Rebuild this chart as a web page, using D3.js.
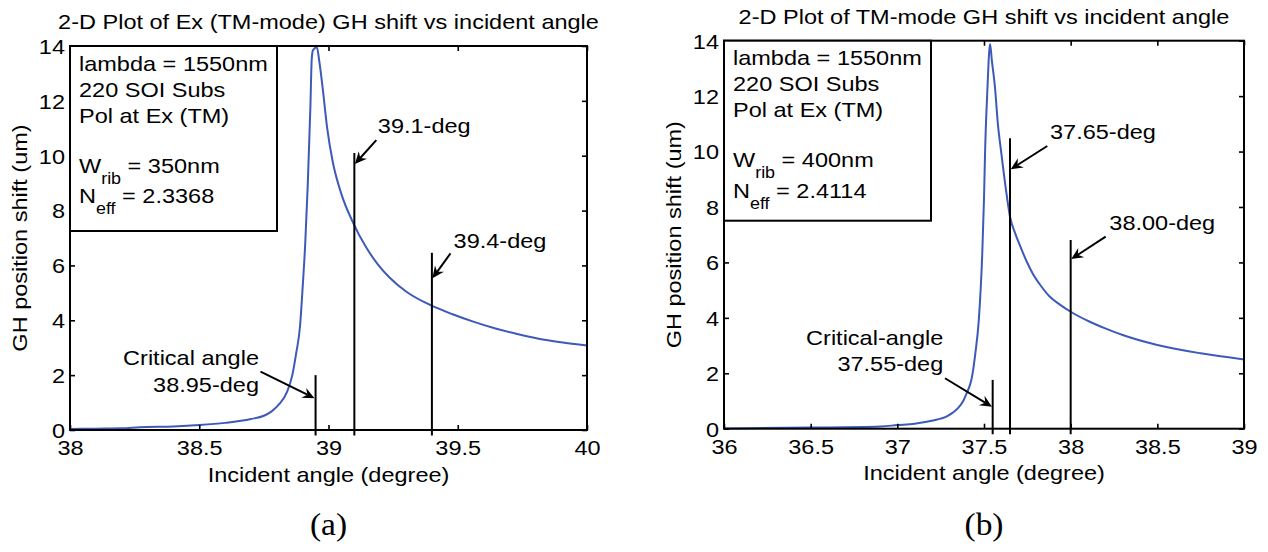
<!DOCTYPE html>
<html>
<head>
<meta charset="utf-8">
<script src="https://cdn.jsdelivr.net/npm/d3@7"></script>
<style>
  html, body { margin: 0; padding: 0; background: #fff; }
  svg { display: block; }
  text { font-family: "Liberation Sans", Arial, Helvetica, sans-serif; fill: #000; }
</style>
</head>
<body>
<svg id="fig" width="1268" height="552"></svg>
<script>
// ---- Panel (a): W_rib = 350 nm ----
const angleA = [38.00, 38.10, 38.20, 38.27, 38.40, 38.50, 38.60, 38.70, 38.75, 38.78,
                38.81, 38.84, 38.86, 38.875, 38.89, 38.90, 38.91, 38.92, 38.93, 38.935,
                38.94, 38.955, 38.965, 38.977, 38.995, 39.016, 39.05, 39.093, 39.145, 39.19,
                39.235, 39.30, 39.395, 39.48, 39.56, 39.646, 39.73, 39.813, 39.90, 40.00];
const shiftA = [0.04, 0.05, 0.06, 0.10, 0.13, 0.18, 0.26, 0.40, 0.52, 0.68,
                0.95, 1.40, 2.00, 2.80, 3.80, 5.20, 6.80, 9.00, 11.8, 13.5,
                13.85, 13.95, 13.4, 12.5, 11.0, 9.8, 8.6, 7.6, 6.67, 6.05,
                5.57, 5.05, 4.55, 4.22, 3.95, 3.70, 3.50, 3.33, 3.20, 3.08];
const xTicksA = [38, 38.5, 39, 39.5, 40];
const markerAngleA = [38.95, 39.1, 39.4];
const markerTopA = [2.0, 10.1, 6.46];

// ---- Panel (b): W_rib = 400 nm ----
const angleB = [36.00, 36.50, 36.90, 37.00, 37.10, 37.17, 37.23, 37.28, 37.32, 37.35,
                37.38, 37.40, 37.42, 37.43, 37.45, 37.47, 37.49, 37.50, 37.506, 37.52,
                37.53, 37.535, 37.545, 37.563, 37.58, 37.60, 37.625, 37.65, 37.68, 37.71,
                37.745, 37.78, 37.83, 37.88, 37.94, 38.00, 38.11, 38.20, 38.30, 38.50,
                38.75, 39.00];
const shiftB = [0.01, 0.04, 0.08, 0.13, 0.18, 0.25, 0.33, 0.43, 0.58, 0.74,
                1.00, 1.28, 1.60, 1.85, 2.72, 3.92, 6.33, 8.3, 9.94, 12.3,
                13.6, 13.88, 13.3, 12.34, 11.0, 9.94, 8.7, 7.65, 7.05, 6.57,
                6.05, 5.61, 5.14, 4.76, 4.47, 4.22, 3.86, 3.62, 3.38, 3.02,
                2.72, 2.50];
const xTicksB = [36, 36.5, 37, 37.5, 38, 38.5, 39];
const markerAngleB = [37.55, 37.65, 38.00];
const markerTopB = [1.76, 10.48, 6.81];

const yTicks = [0, 2, 4, 6, 8, 10, 12, 14];

const titleA = "2-D Plot of Ex (TM-mode) GH shift vs incident angle";
const titleB = "2-D Plot of TM-mode GH shift vs incident angle";
const xLabel = "Incident angle (degree)";
const yLabel = "GH position shift (um)";
const infoLines = ["lambda = 1550nm", "220 SOI Subs", "Pol at Ex (TM)"];
const wribA = "350nm", neffA = "2.3368";
const wribB = "400nm", neffB = "2.4114";

// Arrow annotations, in data units: text anchor, tail and head of the arrow
const notesA = [
  {lines: ["Critical angle", "38.95-deg"], anchor: "end", tx: 38.731, ty: [2.37, 1.40],
   from: [38.737, 2.13], to: [38.946, 1.16]},
  {lines: ["39.1-deg"], anchor: "start", tx: 39.191, ty: [10.82],
   from: [39.185, 10.57], to: [39.102, 9.70]},
  {lines: ["39.4-deg"], anchor: "start", tx: 39.484, ty: [6.65],
   from: [39.472, 6.44], to: [39.402, 5.53]}
];
const notesB = [
  {lines: ["Critical-angle", "37.55-deg"], anchor: "end", tx: 37.265, ty: [3.02, 2.10],
   from: [37.275, 1.82], to: [37.546, 0.79]},
  {lines: ["37.65-deg"], anchor: "start", tx: 37.881, ty: [10.45],
   from: [37.865, 10.20], to: [37.654, 9.36]},
  {lines: ["38.00-deg"], anchor: "start", tx: 38.223, ty: [7.17],
   from: [38.202, 6.93], to: [38.003, 6.12]}
];

const svg = d3.select("#fig");
const FS = 21;        // base font size
const TITLE_FS = 21;
const SX = 1.12;      // horizontal glyph stretch of the plot lettering
const curveColor = "#3d5ab8";

function addText(g, x, y, str, opts = {}) {
  const rot = opts.rotate ? " rotate(-90)" : "";
  return g.append("text")
    .attr("transform", `translate(${x},${y})${rot} scale(${opts.sx || SX},1)`)
    .attr("text-anchor", opts.anchor || "start")
    .attr("font-size", opts.size || FS)
    .style("font-family", opts.family || null)
    .text(str);
}

function drawPanel(cfg) {
  const g = svg.append("g");
  const x = d3.scaleLinear().domain(cfg.xDomain).range([cfg.left, cfg.right]);
  const y = d3.scaleLinear().domain([0, 14]).range([cfg.bottom, cfg.top]);
  const tickLen = 5;

  // curve
  const pts = cfg.angle.map((a, i) => [a, cfg.shift[i]]);
  g.append("path")
    .datum(pts)
    .attr("fill", "none")
    .attr("stroke", curveColor)
    .attr("stroke-width", 2)
    .attr("stroke-linejoin", "round")
    .attr("d", d3.line().curve(d3.curveMonotoneX).x(d => x(d[0])).y(d => y(d[1])));

  // inward ticks on all four sides
  const axB = d3.axisBottom(x).tickValues(cfg.xTicks).tickSize(-tickLen).tickFormat(d3.format("~g"));
  const axT = d3.axisTop(x).tickValues(cfg.xTicks).tickSize(-tickLen).tickFormat("");
  const axL = d3.axisLeft(y).tickValues(yTicks).tickSize(-tickLen).tickFormat(d3.format("d"));
  const axR = d3.axisRight(y).tickValues(yTicks).tickSize(-tickLen).tickFormat("");

  const gb = g.append("g").attr("transform", `translate(0,${cfg.bottom})`).call(axB);
  const gt = g.append("g").attr("transform", `translate(0,${cfg.top})`).call(axT);
  const gl = g.append("g").attr("transform", `translate(${cfg.left},0)`).call(axL);
  const gr = g.append("g").attr("transform", `translate(${cfg.right},0)`).call(axR);
  [gb, gt, gl, gr].forEach(a => {
    a.select(".domain").remove();
    a.selectAll(".tick line").attr("stroke", "#000").attr("stroke-width", 1.6);
  });
  // restyle tick labels with the stretched lettering
  gb.selectAll(".tick text")
    .attr("y", null).attr("dy", null)
    .attr("transform", `translate(0,25) scale(${SX},1)`)
    .attr("text-anchor", "middle");
  gl.selectAll(".tick text")
    .attr("x", null).attr("dy", null)
    .attr("transform", `translate(-5,7.4) scale(${SX},1)`)
    .attr("text-anchor", "end");
  g.selectAll(".tick text")
    .attr("fill", "#000")
    .style("font-size", FS + "px")
    .style("font-family", '"Liberation Sans", Arial, sans-serif');

  // axes box
  g.append("rect")
    .attr("x", cfg.left).attr("y", cfg.top)
    .attr("width", cfg.right - cfg.left).attr("height", cfg.bottom - cfg.top)
    .attr("fill", "none").attr("stroke", "#000").attr("stroke-width", 2);

  // vertical marker lines
  cfg.markerAngle.forEach((a, i) => {
    g.append("line")
      .attr("x1", x(a)).attr("x2", x(a))
      .attr("y1", y(-0.2)).attr("y2", y(cfg.markerTop[i]))
      .attr("stroke", "#000").attr("stroke-width", 2);
  });

  // annotation arrows and their text
  cfg.notes.forEach(n => {
    const x0 = x(n.from[0]), y0 = y(n.from[1]);
    const x1 = x(n.to[0]), y1 = y(n.to[1]);
    const ang = Math.atan2(y1 - y0, x1 - x0);
    const L = 12, W = 5.5, back = 8;
    const ux = Math.cos(ang), uy = Math.sin(ang);
    const bx = x1 - ux * L, by = y1 - uy * L;
    const nx = x1 - ux * back, ny = y1 - uy * back;
    g.append("line")
      .attr("x1", x0).attr("y1", y0).attr("x2", nx).attr("y2", ny)
      .attr("stroke", "#000").attr("stroke-width", 2);
    g.append("path")
      .attr("d", `M${x1},${y1}L${bx - uy * W},${by + ux * W}L${nx},${ny}L${bx + uy * W},${by - ux * W}Z`)
      .attr("fill", "#000");
    n.lines.forEach((s, k) => addText(g, x(n.tx), y(n.ty[k]), s, {anchor: n.anchor}));
  });

  // parameter box
  const lg = g.append("g");
  lg.append("rect")
    .attr("x", cfg.left).attr("y", cfg.top)
    .attr("width", cfg.legendW).attr("height", cfg.legendH)
    .attr("fill", "#fff").attr("stroke", "#000").attr("stroke-width", 2);
  const lx = cfg.left + 9;
  const base = [24.5, 50.5, 76.5];
  infoLines.forEach((s, k) => addText(lg, lx, cfg.top + base[k], s));
  const w = addText(lg, lx, cfg.top + 126.5, "W");
  w.append("tspan").attr("dy", 11).style("font-size", "16px").text("rib");
  w.append("tspan").attr("dy", -11).text(" = " + cfg.wrib);
  const nf = addText(lg, lx, cfg.top + 157, "N");
  nf.append("tspan").attr("dy", 11).style("font-size", "16px").text("eff");
  nf.append("tspan").attr("dy", -11).text(" = " + cfg.neff);

  // titles and axis labels
  const cx = (cfg.left + cfg.right) / 2;
  addText(g, cx, cfg.top - 17, cfg.title, {anchor: "middle", size: TITLE_FS});
  addText(g, cx, cfg.bottom + 51.5, xLabel, {anchor: "middle"});
  addText(g, cfg.left - 43.5, (cfg.top + cfg.bottom) / 2, yLabel, {anchor: "middle", rotate: true});
  addText(g, cx, 535, cfg.tag, {anchor: "middle", size: 31, sx: 1.08,
    family: '"Liberation Serif", "Times New Roman", serif'});
}

drawPanel({
  left: 70, right: 587, top: 46, bottom: 430,
  xDomain: [38, 40], xTicks: xTicksA,
  angle: angleA, shift: shiftA,
  markerAngle: markerAngleA, markerTop: markerTopA, notes: notesA,
  legendW: 207, legendH: 185, wrib: wribA, neff: neffA,
  title: titleA, tag: "(a)"
});
drawPanel({
  left: 724, right: 1244, top: 40.7, bottom: 428.7,
  xDomain: [36, 39], xTicks: xTicksB,
  angle: angleB, shift: shiftB,
  markerAngle: markerAngleB, markerTop: markerTopB, notes: notesB,
  legendW: 207, legendH: 180, wrib: wribB, neff: neffB,
  title: titleB, tag: "(b)"
});
</script>
</body>
</html>
